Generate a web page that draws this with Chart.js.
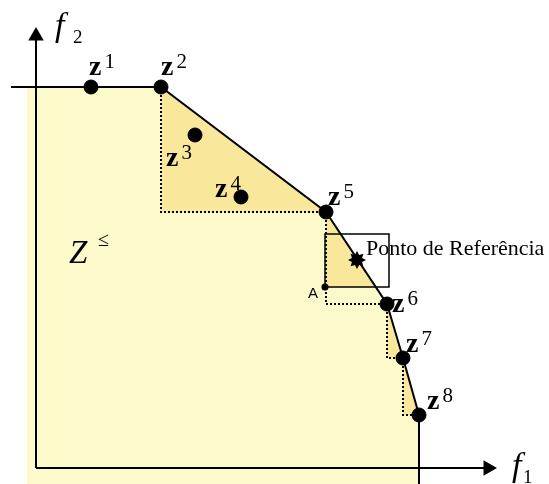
<!DOCTYPE html>
<html>
<head>
<meta charset="utf-8">
<script src="https://cdn.jsdelivr.net/npm/chart.js@4"></script>
<style>
  body { margin: 0; background: #fff; }
  #wrap { width: 549px; height: 484px; position: relative; }
</style>
</head>
<body>
<div id="wrap"><canvas id="front"></canvas></div>
<script>
// objective vectors z1..z8 as (f1, f2)
const pointNames = ["1", "2", "3", "4", "5", "6", "7", "8"];
const f1Values = [55, 125, 159, 205, 290, 351, 367, 383];
const f2Values = [381, 381, 333, 271, 256, 164, 110, 53];
// nondominated points along the front (indexes into the arrays above)
const frontIdx = [1, 4, 5, 6, 7];
// reference point, point A and the opposite corner of its box
const refPoint = [321, 208];
const pointA = [289, 181];
const boxCorner = [353, 234];
// axis ends and where the region / front line start on the left
const f1Max = 461;
const f2Max = 441;
const regionStart = -9;
const lineStart = -25;

const LIGHT = "#fcfacb";
const DARK = "#f9e89b";

// label placement in pixels, relative to each point
const labelOffsets = [[-2, -12], [0, -12], [-29, 31], [-26, 0], [2, -7], [5, 8], [3, -6], [8, -6]];

const pts = f1Values.map((v, i) => ({ x: v, y: f2Values[i] }));
const frontPts = frontIdx.map(i => pts[i]);
const yMin = -16;

// dominated region under the front
const regionData = [{ x: regionStart, y: f2Values[1] }, ...frontPts, { x: f1Values[7], y: yMin }];
const frontLine = [{ x: lineStart, y: f2Values[1] }, ...frontPts, { x: f1Values[7], y: yMin }];

// staircase between consecutive front points
const stairs = [];
for (let i = 0; i < frontPts.length - 1; i++) {
    const p = frontPts[i], q = frontPts[i + 1];
    stairs.push([p, { x: p.x, y: q.y }, q]);
}

// darker patches: z5 patch is cut at the height of A
const z5 = frontPts[1], z6 = frontPts[2];
const cutX = z5.x + (z5.y - pointA[1]) / (z5.y - z6.y) * (z6.x - z5.x);
const patches = [
    [stairs[0][0], stairs[0][1], stairs[0][2], stairs[0][0]],
    [z5, { x: z5.x, y: pointA[1] }, { x: cutX, y: pointA[1] }, z5],
    [stairs[2][0], stairs[2][1], stairs[2][2], stairs[2][0]],
    [stairs[3][0], stairs[3][1], stairs[3][2], stairs[3][0]]
];

const box = [
    { x: pointA[0], y: pointA[1] }, { x: boxCorner[0], y: pointA[1] },
    { x: boxCorner[0], y: boxCorner[1] }, { x: pointA[0], y: boxCorner[1] },
    { x: pointA[0], y: pointA[1] }
];

// filled eight-point star for the reference point
function makeStar() {
    const c = document.createElement("canvas");
    c.width = 20; c.height = 20;
    const g = c.getContext("2d");
    g.beginPath();
    for (let k = 0; k < 16; k++) {
        const r = k % 2 === 0 ? 9 : 5.5;
        const a = k * Math.PI / 8;
        g.lineTo(10 + r * Math.cos(a), 10 + r * Math.sin(a));
    }
    g.closePath();
    g.fillStyle = "#000";
    g.fill();
    return c;
}

const datasets = [];
datasets.push({
    data: regionData, showLine: true, fill: "start", backgroundColor: LIGHT,
    borderWidth: 0, pointRadius: 0, order: 10
});
patches.forEach(p => datasets.push({
    data: p, showLine: true, fill: "shape", backgroundColor: DARK,
    borderWidth: 0, pointRadius: 0, order: 9
}));
stairs.forEach(s => datasets.push({
    data: s, showLine: true, fill: false, borderColor: "#000", borderWidth: 2,
    borderDash: [2, 2], pointRadius: 0, order: 8
}));
datasets.push({
    data: frontLine, showLine: true, fill: false, borderColor: "#000",
    borderWidth: 2, pointRadius: 0, order: 7
});
datasets.push({
    data: box, showLine: true, fill: false, borderColor: "#000",
    borderWidth: 1.5, pointRadius: 0, order: 6
});
// axes with arrowheads
datasets.push({
    data: [{ x: 0, y: 0 }, { x: 0, y: f2Max - 9 }], showLine: true, fill: false,
    borderColor: "#000", borderWidth: 2, backgroundColor: "#000",
    pointStyle: "triangle", pointRadius: [0, 9], pointBorderWidth: 0, order: 5
});
datasets.push({
    data: [{ x: 0, y: 0 }, { x: f1Max - 9, y: 0 }], showLine: true, fill: false,
    borderColor: "#000", borderWidth: 2, backgroundColor: "#000",
    pointStyle: "triangle", rotation: 90, pointRadius: [0, 9], pointBorderWidth: 0, order: 5
});
datasets.push({
    data: pts, showLine: false, backgroundColor: "#000", borderColor: "#000",
    pointRadius: 7, order: 1
});
datasets.push({
    data: [{ x: pointA[0], y: pointA[1] }], showLine: false, backgroundColor: "#000",
    pointRadius: 3.5, order: 1
});
datasets.push({
    data: [{ x: refPoint[0], y: refPoint[1] }], showLine: false,
    pointStyle: makeStar(), order: 1
});

const labels = {
    id: "labels",
    afterDatasetsDraw(chart) {
        const ctx = chart.ctx;
        const xs = chart.scales.x, ys = chart.scales.y;
        ctx.save();
        ctx.fillStyle = "#000";
        ctx.textBaseline = "alphabetic";
        ctx.textAlign = "left";
        pts.forEach((p, i) => {
            const px = xs.getPixelForValue(p.x) + labelOffsets[i][0];
            const py = ys.getPixelForValue(p.y) + labelOffsets[i][1];
            ctx.font = 'bold 28px "Liberation Serif"';
            ctx.fillText("z", px, py);
            const w = ctx.measureText("z").width;
            ctx.font = '21px "Liberation Serif"';
            ctx.fillText(pointNames[i], px + w + 3, py - 7);
        });
        // axis titles
        const ox = xs.getPixelForValue(0), oy = ys.getPixelForValue(0);
        ctx.font = 'italic 34px "Liberation Serif"';
        ctx.fillText("f", ox + 19, ys.getPixelForValue(f2Max) + 9);
        ctx.fillText("f", xs.getPixelForValue(f1Max) + 15, oy + 8);
        ctx.font = '19px "Liberation Serif"';
        ctx.fillText("2", ox + 37, ys.getPixelForValue(f2Max) + 16);
        ctx.fillText("1", xs.getPixelForValue(f1Max) + 26, oy + 15);
        // region name
        ctx.font = 'italic 33px "Liberation Serif"';
        ctx.fillText("Z", 69, 263);
        ctx.font = '20px "Liberation Serif"';
        ctx.fillText("\u2264", 98, 246);
        // reference point caption and A
        ctx.font = '22px "Liberation Serif"';
        ctx.fillText("Ponto de Refer\u00eancia", xs.getPixelForValue(refPoint[0]) + 9, ys.getPixelForValue(refPoint[1]) - 5);
        ctx.font = '15px "Liberation Sans"';
        ctx.fillText("A", xs.getPixelForValue(pointA[0]) - 17, ys.getPixelForValue(pointA[1]) + 11);
        ctx.restore();
    }
};

new Chart(document.getElementById("front"), {
    type: "scatter",
    data: { datasets: datasets },
    options: {
        responsive: true,
        maintainAspectRatio: false,
        animation: false,
        layout: { padding: 0, autoPadding: false },
        plugins: { legend: { display: false }, tooltip: { enabled: false } },
        scales: {
            x: { type: "linear", min: -36, max: 513, display: false },
            y: { type: "linear", min: yMin, max: 468, display: false }
        },
        elements: { line: { tension: 0 } }
    },
    plugins: [labels]
});
</script>
</body>
</html>
